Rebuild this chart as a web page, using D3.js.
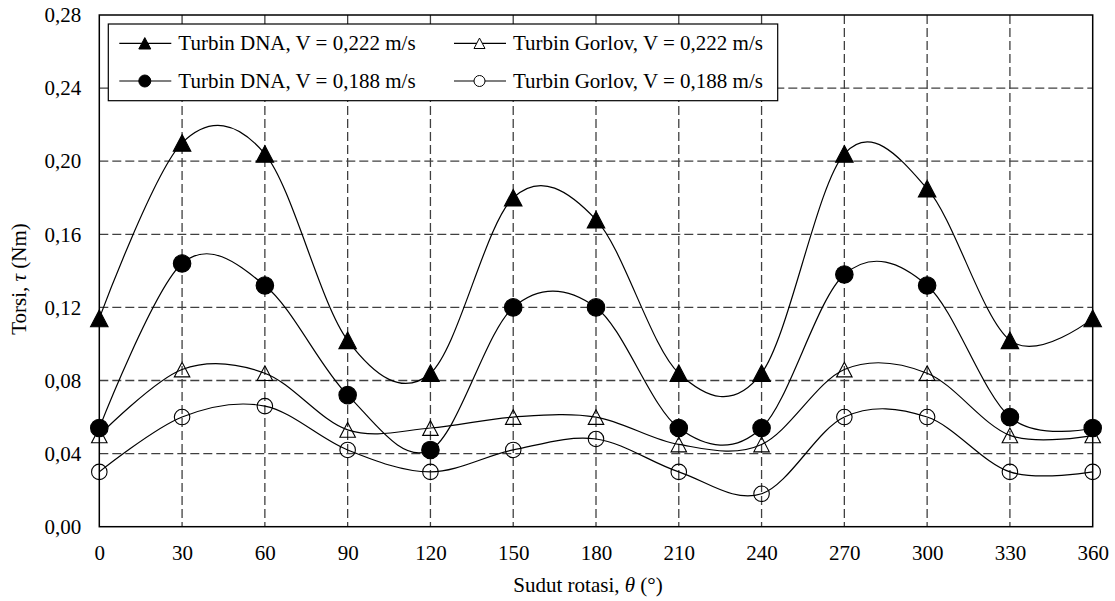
<!DOCTYPE html>
<html>
<head>
<meta charset="utf-8">
<script src="https://cdn.jsdelivr.net/npm/d3@7"></script>
<style>
  body { margin: 0; background: #fff; }
  svg { display: block; }
  text { font-family: "Liberation Serif", "Times New Roman", serif; fill: #000; }
</style>
</head>
<body>
<svg id="chart" width="1115" height="601"></svg>
<script>
// Rotation angle (degrees) and measured torque (Nm) for each turbin / flow speed
const angles = [0, 30, 60, 90, 120, 150, 180, 210, 240, 270, 300, 330, 360];
const dna222    = [0.114, 0.210, 0.204, 0.102, 0.084, 0.180, 0.168, 0.084, 0.084, 0.204, 0.185, 0.102, 0.114];
const gorlov222 = [0.050, 0.086, 0.084, 0.053, 0.054, 0.060, 0.060, 0.045, 0.045, 0.086, 0.084, 0.050, 0.050];
const dna188    = [0.054, 0.144, 0.132, 0.072, 0.042, 0.120, 0.120, 0.054, 0.054, 0.138, 0.132, 0.060, 0.054];
const gorlov188 = [0.030, 0.060, 0.066, 0.042, 0.030, 0.042, 0.048, 0.030, 0.018, 0.060, 0.060, 0.030, 0.030];

const seriesNames = [
  "Turbin DNA, V = 0,222 m/s",
  "Turbin Gorlov, V = 0,222 m/s",
  "Turbin DNA, V = 0,188 m/s",
  "Turbin Gorlov, V = 0,188 m/s"
];
const xTicks = [0, 30, 60, 90, 120, 150, 180, 210, 240, 270, 300, 330, 360];
const yTicks = [0, 0.04, 0.08, 0.12, 0.16, 0.20, 0.24, 0.28];

const series = [
  { name: seriesNames[0], values: dna222,    shape: "triangle", filled: true },
  { name: seriesNames[1], values: gorlov222, shape: "triangle", filled: false },
  { name: seriesNames[2], values: dna188,    shape: "circle",   filled: true },
  { name: seriesNames[3], values: gorlov188, shape: "circle",   filled: false }
];

const svg = d3.select("#chart");
const plot = { left: 99.3, right: 1092.7, top: 15, bottom: 526.7 };

const x = d3.scaleLinear().domain([0, 360]).range([plot.left, plot.right]);
const y = d3.scaleLinear().domain([0, 0.28]).range([plot.bottom, plot.top]);

const fmtY = v => d3.format(".2f")(v).replace(".", ",");

// Dashed grid
const grid = svg.append("g").attr("stroke", "#404040").attr("stroke-width", 1.3)
  .attr("stroke-dasharray", "9,4").attr("fill", "none");
grid.selectAll("line.v").data(xTicks.filter(d => d > 0 && d < 360)).join("line")
  .attr("x1", d => x(d)).attr("x2", d => x(d))
  .attr("y1", plot.top).attr("y2", plot.bottom);
grid.selectAll("line.h").data(yTicks.filter(d => d > 0 && d < 0.28)).join("line")
  .attr("x1", plot.left).attr("x2", plot.right)
  .attr("y1", d => y(d)).attr("y2", d => y(d));

// Axes (labels only, frame drawn separately)
const xAxis = svg.append("g").attr("transform", `translate(0,${plot.bottom})`)
  .call(d3.axisBottom(x).tickValues(xTicks).tickSize(0).tickPadding(18).tickFormat(d3.format("d")));
const yAxis = svg.append("g").attr("transform", `translate(${plot.left},0)`)
  .call(d3.axisLeft(y).tickValues(yTicks).tickSize(0).tickPadding(18).tickFormat(fmtY));
[xAxis, yAxis].forEach(a => {
  a.select(".domain").remove();
  a.selectAll("text").attr("font-size", 21)
    .attr("font-family", '"Liberation Serif", "Times New Roman", serif').attr("fill", "#000");
});

// Plot frame
svg.append("rect")
  .attr("x", plot.left).attr("y", plot.top)
  .attr("width", plot.right - plot.left).attr("height", plot.bottom - plot.top)
  .attr("fill", "none").attr("stroke", "#000").attr("stroke-width", 1.5);

// Marker path generator: triangle centred on its bounding box, or circle
function markerPath(shape, size) {
  if (shape === "triangle") {
    const w = size, h = size * 0.95;
    return `M0,${-h / 2}L${w / 2},${h / 2}L${-w / 2},${h / 2}Z`;
  }
  const r = size / 2;
  return `M${r},0A${r},${r} 0 1,1 ${-r},0A${r},${r} 0 1,1 ${r},0Z`;
}

const line = d3.line()
  .x((d, i) => x(angles[i]))
  .y(d => y(d))
  .curve(d3.curveCatmullRom.alpha(0));

const lines = svg.append("g");
series.forEach(s => {
  lines.append("path").attr("d", line(s.values))
    .attr("fill", "none").attr("stroke", "#000").attr("stroke-width", 1.2);
});

const marks = svg.append("g");
series.forEach(s => {
  const size = s.filled ? 17.5 : 15.5;
  marks.append("g").selectAll("path").data(s.values).join("path")
    .attr("transform", (d, i) => `translate(${x(angles[i])},${y(d)})`)
    .attr("d", markerPath(s.shape, size))
    .attr("fill", s.filled ? "#000" : "none")
    .attr("stroke", "#000").attr("stroke-width", 1.1);
});

// Legend
const legend = svg.append("g");
legend.append("rect")
  .attr("x", 108.3).attr("y", 24).attr("width", 669.4).attr("height", 76.7)
  .attr("fill", "#fff").attr("stroke", "#000").attr("stroke-width", 1.2);
const legendPos = [
  { x: 119.3, y: 43.3 }, { x: 454, y: 43.3 },
  { x: 119.3, y: 81 },   { x: 454, y: 81 }
];
series.forEach((s, i) => {
  const p = legendPos[i];
  const g = legend.append("g").attr("transform", `translate(${p.x},${p.y})`);
  g.append("line").attr("x1", 0).attr("x2", 52).attr("y1", 0).attr("y2", 0)
    .attr("stroke", "#000").attr("stroke-width", 1.2);
  g.append("path").attr("transform", "translate(25.5,0)")
    .attr("d", markerPath(s.shape, s.filled ? 12 : 11))
    .attr("fill", s.filled ? "#000" : "#fff").attr("stroke", "#000").attr("stroke-width", 1);
  g.append("text").attr("x", 59).attr("y", 7).attr("font-size", 21).text(s.name);
});

// Axis titles
const xTitle = svg.append("text").attr("x", 588).attr("y", 592)
  .attr("text-anchor", "middle").attr("font-size", 21);
xTitle.append("tspan").text("Sudut rotasi, ");
xTitle.append("tspan").attr("font-style", "italic").text("θ");
xTitle.append("tspan").text(" (°)");

const yTitle = svg.append("text").attr("transform", "translate(26,279) rotate(-90)")
  .attr("text-anchor", "middle").attr("font-size", 21);
yTitle.append("tspan").text("Torsi, ");
yTitle.append("tspan").attr("font-style", "italic").text("τ");
yTitle.append("tspan").text(" (Nm)");
</script>
</body>
</html>
